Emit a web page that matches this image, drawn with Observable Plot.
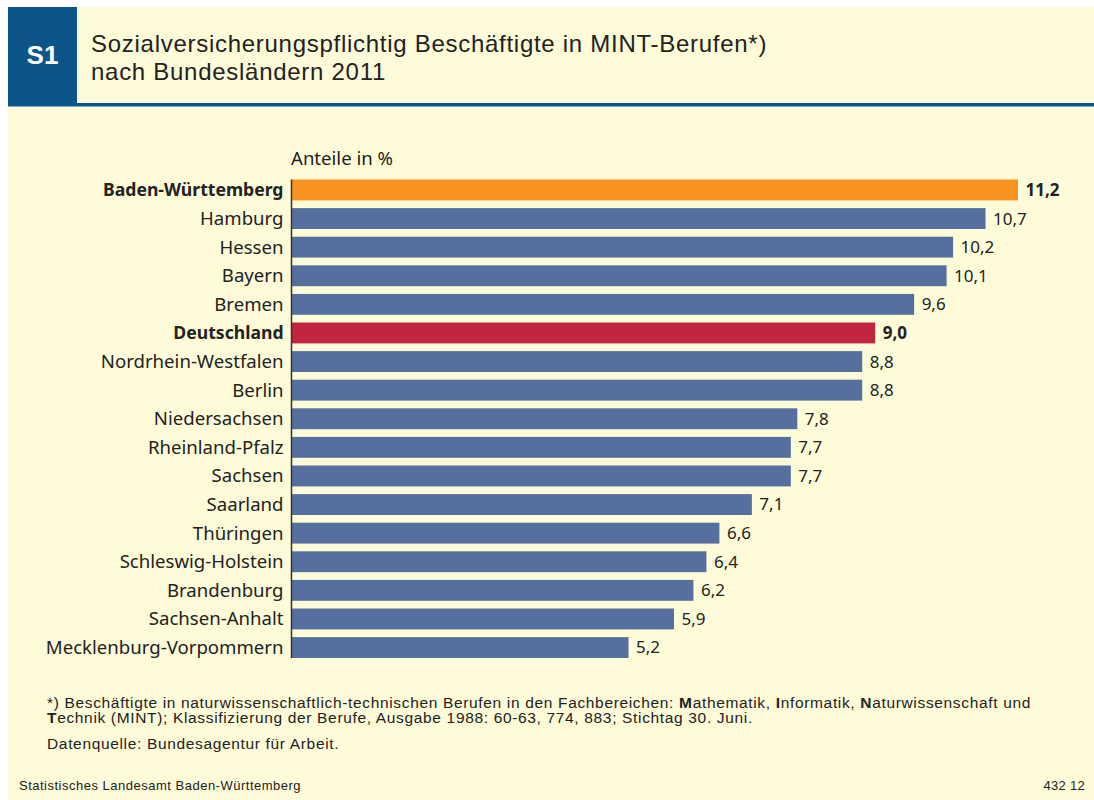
<!DOCTYPE html>
<html>
<head>
<meta charset="utf-8">
<script src="https://cdn.jsdelivr.net/npm/d3@7"></script>
<script src="https://cdn.jsdelivr.net/npm/@observablehq/plot@0.6"></script>
<style>
  html, body { margin: 0; padding: 0; background: #ffffff; }
  #page { position: relative; width: 1094px; height: 800px; overflow: hidden; background: #ffffff; font-family: "Liberation Sans", Arial, sans-serif; color: #222; }
  #card { position: absolute; left: 8px; top: 7px; right: 0; bottom: 0; background: #FEFBD9; }
  #badge { position: absolute; left: 8px; top: 7px; width: 69px; height: 97px; background: #0B5588; color: #fff; font: bold 26px "Liberation Sans", Arial, sans-serif; display: flex; align-items: center; justify-content: center; }
  #hline1 { position: absolute; left: 8px; right: 0; top: 103px; height: 3px; background: #0B5588; }
  #hline2 { position: absolute; left: 8px; right: 0; top: 106px; height: 1px; background: #7FA6C6; }
  .title { position: absolute; left: 91px; font: 24px "Liberation Sans", Arial, sans-serif; letter-spacing: 0.72px; line-height: 24px; height: 24px; color: #222; white-space: nowrap; }
  #unit { position: absolute; left: 291px; top: 145px; font: 18.6px "Noto Sans", sans-serif; color: #222; }
  #chart { position: absolute; left: 0; top: 120px; }
  .note { position: absolute; left: 47px; font: 15.5px "Liberation Sans", Arial, sans-serif; letter-spacing: 0.66px; line-height: 15px; height: 15px; color: #222; white-space: nowrap; }
  #foot { position: absolute; left: 19px; top: 778px; font: 13px "Liberation Sans", Arial, sans-serif; letter-spacing: 0.5px; color: #222; }
  #num { position: absolute; right: 9px; top: 778px; font: 13px "Liberation Sans", Arial, sans-serif; letter-spacing: 0.3px; color: #222; }
</style>
</head>
<body>
<div id="page">
  <div id="card"></div>
  <div id="badge">S1</div>
  <div id="hline1"></div>
  <div id="hline2"></div>
  <div class="title" style="top:32px">Sozialversicherungspflichtig Beschäftigte in MINT-Berufen*)</div>
  <div class="title" style="top:60px">nach Bundesländern 2011</div>
  <div id="unit">Anteile in %</div>
  <div id="chart"></div>
  <div class="note" style="top:695px">*) Beschäftigte in naturwissenschaftlich-technischen Berufen in den Fachbereichen: <b>M</b>athematik, <b>I</b>nformatik, <b>N</b>aturwissenschaft und</div>
  <div class="note" style="top:710px"><b>T</b>echnik (MINT); Klassifizierung der Berufe, Ausgabe 1988: 60-63, 774, 883; Stichtag 30. Juni.</div>
  <div class="note" style="top:736px">Datenquelle: Bundesagentur für Arbeit.</div>
  <div id="foot">Statistisches Landesamt Baden-Württemberg</div>
  <div id="num">432 12</div>
</div>
<script>
const states = ["Baden-Württemberg","Hamburg","Hessen","Bayern","Bremen","Deutschland","Nordrhein-Westfalen","Berlin","Niedersachsen","Rheinland-Pfalz","Sachsen","Saarland","Thüringen","Schleswig-Holstein","Brandenburg","Sachsen-Anhalt","Mecklenburg-Vorpommern"];
const shares = [11.2,10.7,10.2,10.1,9.6,9.0,8.8,8.8,7.8,7.7,7.7,7.1,6.6,6.4,6.2,5.9,5.2];
const boldStates = ["Baden-Württemberg","Deutschland"];
const barColors = {"Baden-Württemberg": "#F7931E", "Deutschland": "#C1253F"};
const defaultColor = "#55709E";

const data = states.map((s, i) => ({state: s, value: shares[i]}));
const fmt = v => v.toFixed(1).replace(".", ",");
const isBold = d => boldStates.includes(d.state);

const chart = Plot.plot({
  width: 1094,
  height: 560,
  marginLeft: 291,
  marginRight: 76,
  marginTop: 51.8,
  marginBottom: 14.3,
  style: {background: "transparent", fontFamily: "'Noto Sans', sans-serif", fontSize: "17px", color: "#222"},
  x: {domain: [0, 11.2], axis: null},
  y: {domain: states, padding: 0.27, round: false, axis: null},
  marks: [
    Plot.barX(data, {x: "value", y: "state", fill: d => barColors[d.state] || defaultColor}),
    Plot.ruleX([0], {stroke: "#333", strokeWidth: 1.5, insetTop: 7.8, insetBottom: 7.8}),
    Plot.text(data.filter(d => !isBold(d)), {x: 0, y: "state", text: "state", textAnchor: "end", dx: -8, fill: "#222", fontSize: 18.6}),
    Plot.text(data.filter(isBold), {x: 0, y: "state", text: "state", textAnchor: "end", dx: -8, fill: "#222", fontSize: 17.6, fontWeight: "bold"}),
    Plot.text(data.filter(d => !isBold(d)), {x: "value", y: "state", text: d => fmt(d.value), textAnchor: "start", dx: 7, fill: "#222", fontSize: 17}),
    Plot.text(data.filter(isBold), {x: "value", y: "state", text: d => fmt(d.value), textAnchor: "start", dx: 7, fill: "#222", fontSize: 17, fontWeight: "bold"})
  ]
});
document.getElementById("chart").appendChild(chart);
</script>
</body>
</html>
